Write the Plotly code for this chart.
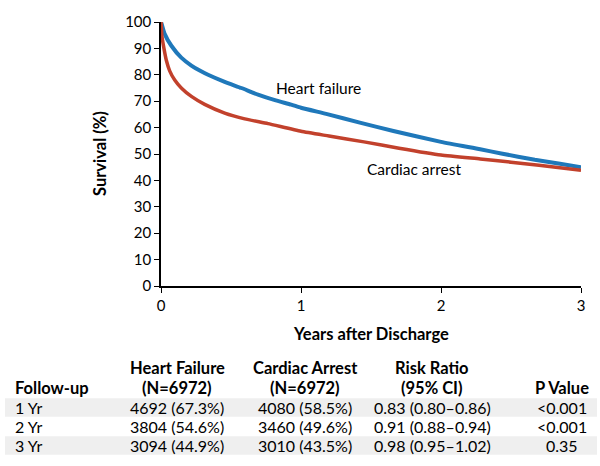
import plotly.graph_objects as go

# ---- Survival curves (years after discharge, survival %) ----
hf_x = [0, 0.005, 0.026, 0.074, 0.145, 0.217, 0.28, 0.336, 0.455, 0.574, 0.693, 0.82, 0.93, 1.0,
        1.18, 1.42, 1.66, 2.0, 2.28, 2.43, 2.67, 2.85, 3.0]
hf_y = [100, 99.2, 95.5, 91.0, 86.5, 83.5, 81.5, 80.0, 77.3, 75.0, 72.5, 70.3, 68.7, 67.5,
        65.2, 61.9, 58.7, 54.6, 51.8, 50.2, 47.8, 46.3, 45.0]

ca_x = [0, 0.007, 0.021, 0.038, 0.062, 0.098, 0.145, 0.217, 0.312, 0.455, 0.598, 0.764,
        1.0, 1.2, 1.45, 1.7, 2.0, 2.28, 2.5, 2.7, 2.85, 3.0]
ca_y = [100, 94.5, 90.0, 85.5, 81.5, 78.0, 75.0, 71.8, 68.8, 65.5, 63.3, 61.5,
        58.6, 56.8, 54.6, 52.2, 49.6, 48.1, 46.9, 45.7, 44.8, 43.8]

y_ticks = list(range(0, 101, 10))
x_ticks = [0, 1, 2, 3]

# ---- Table ----
header_line1 = ["", "Heart Failure", "Cardiac Arrest", "Risk Ratio", ""]
header_line2 = ["Follow-up", "(N=6972)", "(N=6972)", "(95% CI)", "P Value"]
followup = ["1 Yr", "2 Yr", "3 Yr"]
hf_counts = ["4692 (67.3%)", "3804 (54.6%)", "3094 (44.9%)"]
ca_counts = ["4080 (58.5%)", "3460 (49.6%)", "3010 (43.5%)"]
risk_ratio = ["0.83 (0.80\u20130.86)", "0.91 (0.88\u20130.94)", "0.98 (0.95\u20131.02)"]
p_value = ["<0.001", "<0.001", "0.35"]

W, H = 600, 466
L, R, T = 161, 581, 15
B = 285.7
FONT = "Lato"
BLUE = "#1f78ba"
RED = "#c2412c"


def px(x):
    return (x - L) / (R - L)


def py(y):
    return (B - y) / (B - T)


fig = go.Figure()
fig.add_trace(go.Scatter(x=hf_x, y=hf_y, mode="lines",
                         line=dict(color=BLUE, width=4, shape="spline", smoothing=0.5),
                         cliponaxis=False, showlegend=False, hoverinfo="skip"))
fig.add_trace(go.Scatter(x=ca_x, y=ca_y, mode="lines",
                         line=dict(color=RED, width=3.5, shape="spline", smoothing=0.5),
                         cliponaxis=False, showlegend=False, hoverinfo="skip"))

ann = []
shapes = []
# curve labels
ann.append(dict(x=px(318), y=py(83), xref="paper", yref="paper", text="Heart failure",
                showarrow=False, xanchor="center", yanchor="middle",
                font=dict(family=FONT, size=15.5, color="black")))
ann.append(dict(x=px(414), y=py(166), xref="paper", yref="paper", text="Cardiac arrest",
                showarrow=False, xanchor="center", yanchor="middle",
                font=dict(family=FONT, size=15.5, color="black")))
# axis titles
ann.append(dict(x=px(100), y=0.5, xref="paper", yref="paper", text="<b>Survival (%)</b>",
                textangle=-90, showarrow=False, xanchor="center", yanchor="middle",
                font=dict(family=FONT, size=16.5, color="black")))
ann.append(dict(x=0.5, y=py(335), xref="paper", yref="paper", text="<b>Years after Discharge</b>",
                showarrow=False, xanchor="center", yanchor="middle",
                font=dict(family=FONT, size=16.5, color="black")))

# table
col_x = [13, 177, 305, 432, 562]
col_anchor = ["left", "center", "center", "center", "center"]
hdr_y = [370, 390]
row_y = [410.5, 430, 449.5]

for ci in range(5):
    for li, line in enumerate([header_line1, header_line2]):
        if line[ci]:
            ann.append(dict(x=px(col_x[ci]), y=py(hdr_y[li]), xref="paper", yref="paper",
                            text="<b>" + line[ci] + "</b>", showarrow=False,
                            xanchor=col_anchor[ci], yanchor="middle",
                            font=dict(family=FONT, size=16.5, color="black")))

cols = [followup, hf_counts, ca_counts, risk_ratio, p_value]
for ri in range(3):
    if ri % 2 == 0:
        shapes.append(dict(type="rect", xref="paper", yref="paper",
                           x0=px(5), x1=px(597), y0=py(row_y[ri] - 9.7), y1=py(row_y[ri] + 9.3),
                           fillcolor="#efefef", line=dict(width=0), layer="below"))
    for ci in range(5):
        ann.append(dict(x=px(col_x[ci]), y=py(row_y[ri]), xref="paper", yref="paper",
                        text=cols[ci][ri], showarrow=False,
                        xanchor=col_anchor[ci], yanchor="middle",
                        font=dict(family=FONT, size=16, color="black")))

fig.update_layout(
    width=W, height=H,
    margin=dict(l=L, r=W - R, t=T, b=H - B),
    paper_bgcolor="white", plot_bgcolor="white",
    annotations=ann, shapes=shapes,
    font=dict(family=FONT, size=15, color="black"),
    xaxis=dict(range=[0, 3], tickvals=x_ticks, ticks="outside", ticklen=5, tickwidth=1.3,
               tickcolor="black", showline=True, linecolor="black", linewidth=1.5,
               showgrid=False, zeroline=False, tickfont=dict(family=FONT, size=15, color="black")),
    yaxis=dict(range=[0, 100], tickvals=y_ticks, ticks="outside", ticklen=5, tickwidth=1.3,
               tickcolor="black", showline=True, linecolor="black", linewidth=1.5,
               showgrid=False, zeroline=False, tickfont=dict(family=FONT, size=15, color="black")),
)

fig.write_html("out.html", config={"displayModeBar": False},
               post_script="document.body.style.margin='0';document.body.style.overflow='hidden';")
